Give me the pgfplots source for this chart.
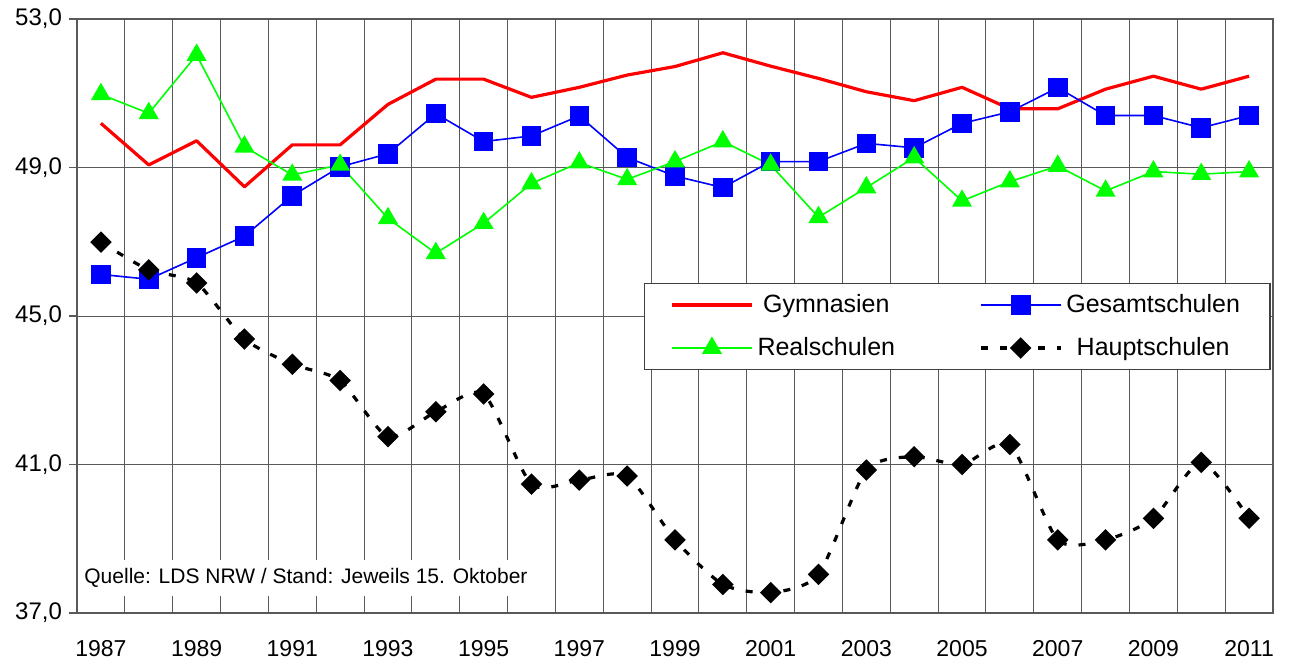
\documentclass[border=0pt]{standalone}
\usepackage{pgfplots}
\pgfplotsset{compat=1.18}
\usepackage{fontspec}
\setmainfont{Liberation Sans}

\begin{document}
\begin{tikzpicture}
\path[use as bounding box] (-38.5pt,-26.5pt) rectangle (606.5pt,306.5pt);
\begin{axis}[
  at={(0,0)}, anchor=south west,
  scale only axis, width=598pt, height=297pt,
  xmin=1986.5, xmax=2011.5, ymin=37, ymax=53,
  xtick={1987,1989,...,2011},
  xticklabels={1987,1989,1991,1993,1995,1997,1999,2001,2003,2005,2007,2009,2011},
  minor xtick={1987.5,1988.5,...,2010.5},
  ytick={37,41,45,49,53},
  yticklabels={{37,0},{41,0},{45,0},{49,0},{53,0}},
  xminorgrids, ymajorgrids,
  grid style={black!65, line width=0.5pt},
  minor grid style={black!65, line width=0.5pt},
  axis line style={black!65, line width=0.7pt},
  tick pos=left, tick align=outside,
  major tick length=4pt, minor tick length=0pt,
  xtick style={draw=none},
  ytick style={black!65, line width=0.6pt},
  xticklabel style={font=\fontsize{11.5}{13}\selectfont, yshift=-6pt},
  yticklabel style={font=\fontsize{12}{14}\selectfont},
  legend columns=2,
  legend image code/.code={\draw[mark repeat=2,mark phase=2] plot coordinates {(0pt,0pt) (20pt,0pt) (40pt,0pt)};},
  legend style={at={(rel axis cs:0.998,0.556)}, anchor=north east,
    draw=black!75, line width=0.6pt, font=\fontsize{12.5}{14}\selectfont,
    inner xsep=13pt, inner ysep=3.5pt, row sep=7pt,
    /tikz/column 2/.style={column sep=40pt}},
]
% Gymnasien
\addplot[red, line width=1.6pt, line join=round, no markers] coordinates {
(1987,50.19)(1988,49.07)(1989,49.72)(1990,48.48)(1991,49.61)(1992,49.61)
(1993,50.70)(1994,51.38)(1995,51.38)(1996,50.89)(1997,51.16)(1998,51.49)
(1999,51.72)(2000,52.09)(2001,51.73)(2002,51.40)(2003,51.04)(2004,50.80)
(2005,51.16)(2006,50.58)(2007,50.58)(2008,51.11)(2009,51.46)(2010,51.11)(2011,51.46)};
% Gesamtschulen
\addplot[blue, line width=0.8pt, mark=square*, mark size=4.5pt, mark options={fill=blue, draw=blue}] coordinates {
(1987,46.12)(1988,45.99)(1989,46.57)(1990,47.15)(1991,48.24)(1992,49.02)
(1993,49.37)(1994,50.45)(1995,49.70)(1996,49.85)(1997,50.39)(1998,49.27)
(1999,48.77)(2000,48.46)(2001,49.16)(2002,49.16)(2003,49.65)(2004,49.53)
(2005,50.19)(2006,50.50)(2007,51.15)(2008,50.40)(2009,50.40)(2010,50.07)(2011,50.40)};
% Realschulen
\addplot[green, line width=0.8pt, mark=triangle*, mark size=5pt, mark options={fill=green, draw=green}] coordinates {
(1987,50.97)(1988,50.46)(1989,52.03)(1990,49.56)(1991,48.80)(1992,49.07)
(1993,47.63)(1994,46.69)(1995,47.50)(1996,48.57)(1997,49.13)(1998,48.68)
(1999,49.16)(2000,49.70)(2001,49.07)(2002,47.66)(2003,48.46)(2004,49.27)
(2005,48.10)(2006,48.62)(2007,49.04)(2008,48.37)(2009,48.89)(2010,48.82)(2011,48.89)};
% Hauptschulen
\addplot[black, line width=1.6pt, dash pattern=on 3.5pt off 6pt, smooth, tension=0.4,
  mark=square*, mark size=3pt, mark options={solid, fill=black, rotate=45}] coordinates {
(1987,46.99)(1988,46.24)(1989,45.89)(1990,44.38)(1991,43.70)(1992,43.26)
(1993,41.75)(1994,42.42)(1995,42.90)(1996,40.47)(1997,40.58)(1998,40.69)
(1999,38.97)(2000,37.77)(2001,37.55)(2002,38.04)(2003,40.85)(2004,41.21)
(2005,41.00)(2006,41.54)(2007,38.97)(2008,38.97)(2009,39.55)(2010,41.06)(2011,39.55)};
\legend{Gymnasien,Gesamtschulen,Realschulen,Hauptschulen}
\node[anchor=west, fill=white, inner xsep=3pt, inner ysep=4pt, xshift=0.5pt,
  font=\fontsize{10.5}{12}\selectfont] at (rel axis cs:0,0.059)
  {Quelle: LDS NRW / Stand: Jeweils 15. Oktober};
\end{axis}
\end{tikzpicture}
\end{document}
